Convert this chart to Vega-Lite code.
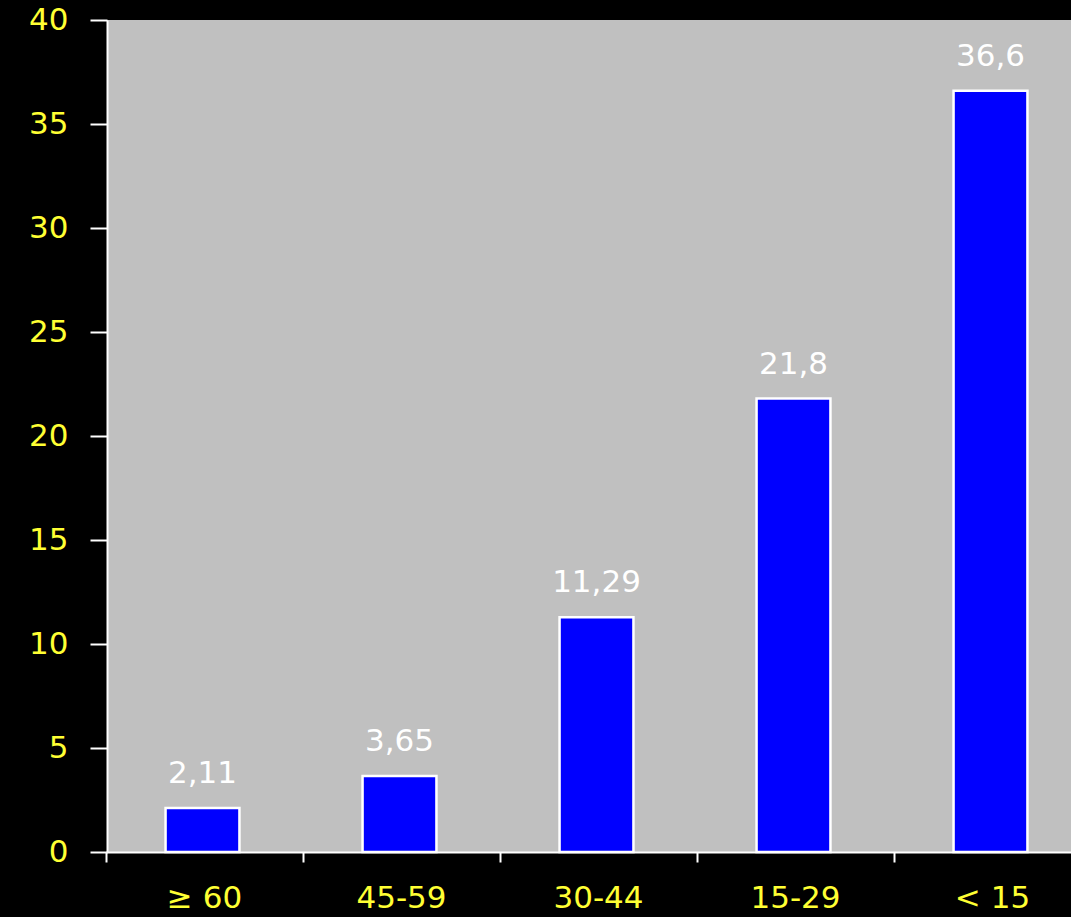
{
  "$schema": "https://vega.github.io/schema/vega-lite/v6.json",
  "autosize": {"type": "none"},
  "width": 964,
  "height": 832,
  "padding": {"left": 107, "top": 20, "right": 0, "bottom": 65},
  "background": "#000000",
  "view": {"fill": "#C0C0C0", "stroke": null},
  "data": {
    "values": [
      {"group": "≥ 60", "value": 2.11, "label": "2,11"},
      {"group": "45-59", "value": 3.65, "label": "3,65"},
      {"group": "30-44", "value": 11.29, "label": "11,29"},
      {"group": "15-29", "value": 21.8, "label": "21,8"},
      {"group": "< 15", "value": 36.6, "label": "36,6"}
    ]
  },
  "encoding": {
    "x": {
      "field": "group",
      "type": "nominal",
      "sort": null,
      "scale": {"range": [-1, 984], "paddingInner": 0, "paddingOuter": 0},
      "axis": {
        "title": null,
        "labelAngle": 0,
        "labelColor": "#FFFF33",
        "labelFont": "DejaVu Sans",
        "labelFontSize": 31,
        "labelPadding": 21,
        "bandPosition": 0,
        "tickColor": "#FFFFFF",
        "tickSize": 10,
        "tickWidth": 2,
        "domainColor": "#FFFFFF",
        "domainWidth": 2
      }
    },
    "y": {
      "field": "value",
      "type": "quantitative",
      "scale": {"domain": [0, 40], "nice": false},
      "axis": {
        "title": null,
        "values": [0, 5, 10, 15, 20, 25, 30, 35, 40],
        "grid": false,
        "labelColor": "#FFFF33",
        "labelFont": "DejaVu Sans",
        "labelFontSize": 31,
        "labelPadding": 22,
        "tickColor": "#FFFFFF",
        "tickSize": 17,
        "tickWidth": 2,
        "domainColor": "#FFFFFF",
        "domainWidth": 2
      }
    }
  },
  "layer": [
    {
      "mark": {"type": "bar", "fill": "#0000FF", "stroke": "#FFFFFF", "strokeWidth": 2.5, "width": {"band": 0.375}, "xOffset": -2}
    },
    {
      "mark": {"type": "text", "color": "#FFFFFF", "font": "DejaVu Sans", "fontSize": 31, "baseline": "bottom", "dy": -18, "dx": -2},
      "encoding": {"text": {"field": "label"}}
    }
  ]
}
